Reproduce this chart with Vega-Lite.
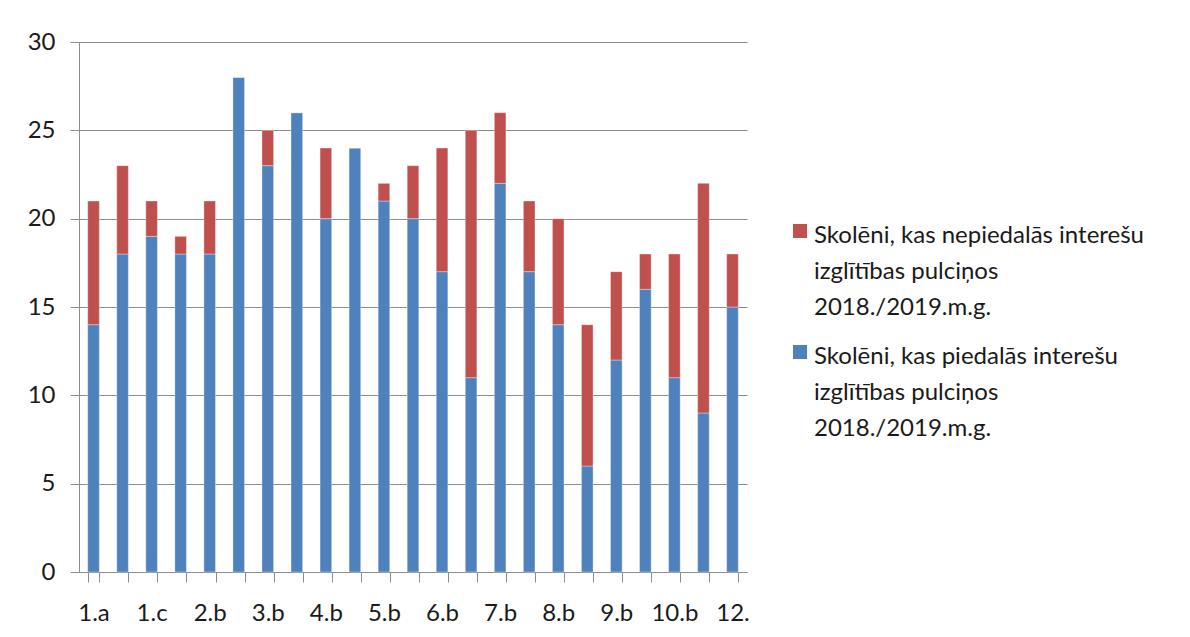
{
  "$schema": "https://vega.github.io/schema/vega-lite/v6.json",
  "width": 668,
  "height": 530,
  "autosize": {"type": "none"},
  "padding": {"left": 79, "top": 42, "right": 443, "bottom": 65},
  "background": "white",
  "data": {
    "values": [
      {"klase": "1.a", "grupa": "Skolēni, kas piedalās interešu izglītības pulciņos 2018./2019.m.g.", "skaits": 14},
      {"klase": "1.a", "grupa": "Skolēni, kas nepiedalās interešu izglītības pulciņos 2018./2019.m.g.", "skaits": 7},
      {"klase": "1.b", "grupa": "Skolēni, kas piedalās interešu izglītības pulciņos 2018./2019.m.g.", "skaits": 18},
      {"klase": "1.b", "grupa": "Skolēni, kas nepiedalās interešu izglītības pulciņos 2018./2019.m.g.", "skaits": 5},
      {"klase": "1.c", "grupa": "Skolēni, kas piedalās interešu izglītības pulciņos 2018./2019.m.g.", "skaits": 19},
      {"klase": "1.c", "grupa": "Skolēni, kas nepiedalās interešu izglītības pulciņos 2018./2019.m.g.", "skaits": 2},
      {"klase": "2.a", "grupa": "Skolēni, kas piedalās interešu izglītības pulciņos 2018./2019.m.g.", "skaits": 18},
      {"klase": "2.a", "grupa": "Skolēni, kas nepiedalās interešu izglītības pulciņos 2018./2019.m.g.", "skaits": 1},
      {"klase": "2.b", "grupa": "Skolēni, kas piedalās interešu izglītības pulciņos 2018./2019.m.g.", "skaits": 18},
      {"klase": "2.b", "grupa": "Skolēni, kas nepiedalās interešu izglītības pulciņos 2018./2019.m.g.", "skaits": 3},
      {"klase": "3.a", "grupa": "Skolēni, kas piedalās interešu izglītības pulciņos 2018./2019.m.g.", "skaits": 28},
      {"klase": "3.a", "grupa": "Skolēni, kas nepiedalās interešu izglītības pulciņos 2018./2019.m.g.", "skaits": 0},
      {"klase": "3.b", "grupa": "Skolēni, kas piedalās interešu izglītības pulciņos 2018./2019.m.g.", "skaits": 23},
      {"klase": "3.b", "grupa": "Skolēni, kas nepiedalās interešu izglītības pulciņos 2018./2019.m.g.", "skaits": 2},
      {"klase": "4.a", "grupa": "Skolēni, kas piedalās interešu izglītības pulciņos 2018./2019.m.g.", "skaits": 26},
      {"klase": "4.a", "grupa": "Skolēni, kas nepiedalās interešu izglītības pulciņos 2018./2019.m.g.", "skaits": 0},
      {"klase": "4.b", "grupa": "Skolēni, kas piedalās interešu izglītības pulciņos 2018./2019.m.g.", "skaits": 20},
      {"klase": "4.b", "grupa": "Skolēni, kas nepiedalās interešu izglītības pulciņos 2018./2019.m.g.", "skaits": 4},
      {"klase": "5.a", "grupa": "Skolēni, kas piedalās interešu izglītības pulciņos 2018./2019.m.g.", "skaits": 24},
      {"klase": "5.a", "grupa": "Skolēni, kas nepiedalās interešu izglītības pulciņos 2018./2019.m.g.", "skaits": 0},
      {"klase": "5.b", "grupa": "Skolēni, kas piedalās interešu izglītības pulciņos 2018./2019.m.g.", "skaits": 21},
      {"klase": "5.b", "grupa": "Skolēni, kas nepiedalās interešu izglītības pulciņos 2018./2019.m.g.", "skaits": 1},
      {"klase": "6.a", "grupa": "Skolēni, kas piedalās interešu izglītības pulciņos 2018./2019.m.g.", "skaits": 20},
      {"klase": "6.a", "grupa": "Skolēni, kas nepiedalās interešu izglītības pulciņos 2018./2019.m.g.", "skaits": 3},
      {"klase": "6.b", "grupa": "Skolēni, kas piedalās interešu izglītības pulciņos 2018./2019.m.g.", "skaits": 17},
      {"klase": "6.b", "grupa": "Skolēni, kas nepiedalās interešu izglītības pulciņos 2018./2019.m.g.", "skaits": 7},
      {"klase": "7.a", "grupa": "Skolēni, kas piedalās interešu izglītības pulciņos 2018./2019.m.g.", "skaits": 11},
      {"klase": "7.a", "grupa": "Skolēni, kas nepiedalās interešu izglītības pulciņos 2018./2019.m.g.", "skaits": 14},
      {"klase": "7.b", "grupa": "Skolēni, kas piedalās interešu izglītības pulciņos 2018./2019.m.g.", "skaits": 22},
      {"klase": "7.b", "grupa": "Skolēni, kas nepiedalās interešu izglītības pulciņos 2018./2019.m.g.", "skaits": 4},
      {"klase": "8.a", "grupa": "Skolēni, kas piedalās interešu izglītības pulciņos 2018./2019.m.g.", "skaits": 17},
      {"klase": "8.a", "grupa": "Skolēni, kas nepiedalās interešu izglītības pulciņos 2018./2019.m.g.", "skaits": 4},
      {"klase": "8.b", "grupa": "Skolēni, kas piedalās interešu izglītības pulciņos 2018./2019.m.g.", "skaits": 14},
      {"klase": "8.b", "grupa": "Skolēni, kas nepiedalās interešu izglītības pulciņos 2018./2019.m.g.", "skaits": 6},
      {"klase": "9.a", "grupa": "Skolēni, kas piedalās interešu izglītības pulciņos 2018./2019.m.g.", "skaits": 6},
      {"klase": "9.a", "grupa": "Skolēni, kas nepiedalās interešu izglītības pulciņos 2018./2019.m.g.", "skaits": 8},
      {"klase": "9.b", "grupa": "Skolēni, kas piedalās interešu izglītības pulciņos 2018./2019.m.g.", "skaits": 12},
      {"klase": "9.b", "grupa": "Skolēni, kas nepiedalās interešu izglītības pulciņos 2018./2019.m.g.", "skaits": 5},
      {"klase": "10.a", "grupa": "Skolēni, kas piedalās interešu izglītības pulciņos 2018./2019.m.g.", "skaits": 16},
      {"klase": "10.a", "grupa": "Skolēni, kas nepiedalās interešu izglītības pulciņos 2018./2019.m.g.", "skaits": 2},
      {"klase": "10.b", "grupa": "Skolēni, kas piedalās interešu izglītības pulciņos 2018./2019.m.g.", "skaits": 11},
      {"klase": "10.b", "grupa": "Skolēni, kas nepiedalās interešu izglītības pulciņos 2018./2019.m.g.", "skaits": 7},
      {"klase": "11.a", "grupa": "Skolēni, kas piedalās interešu izglītības pulciņos 2018./2019.m.g.", "skaits": 9},
      {"klase": "11.a", "grupa": "Skolēni, kas nepiedalās interešu izglītības pulciņos 2018./2019.m.g.", "skaits": 13},
      {"klase": "12.", "grupa": "Skolēni, kas piedalās interešu izglītības pulciņos 2018./2019.m.g.", "skaits": 15},
      {"klase": "12.", "grupa": "Skolēni, kas nepiedalās interešu izglītības pulciņos 2018./2019.m.g.", "skaits": 3}
    ]
  },
  "mark": {"type": "bar", "stroke": "white", "strokeOpacity": 0.35, "strokeWidth": 1},
  "encoding": {
    "x": {
      "field": "klase",
      "type": "nominal",
      "sort": null,
      "scale": {"paddingInner": 0.6, "paddingOuter": 0.3},
      "axis": {
        "title": null,
        "labelAngle": 0,
        "tickBand": "extent",
        "labelExpr": "indexof(['1.a','1.c','2.b','3.b','4.b','5.b','6.b','7.b','8.b','9.b','10.b','12.'], datum.value) >= 0 ? datum.label : ''",
        "labelFontSize": 24,
        "labelPadding": 19,
        "tickSize": 10,
        "labelOverlap": false,
        "domainColor": "#8c8c8c",
        "tickColor": "#8c8c8c"
      }
    },
    "y": {
      "field": "skaits",
      "type": "quantitative",
      "stack": "zero",
      "scale": {"domain": [0, 30], "nice": false},
      "axis": {
        "title": null,
        "values": [0, 5, 10, 15, 20, 25, 30],
        "labelFontSize": 24,
        "tickSize": 9,
        "labelPadding": 15,
        "grid": true,
        "gridColor": "#8c8c8c",
        "domainColor": "#8c8c8c",
        "tickColor": "#8c8c8c"
      }
    },
    "color": {
      "field": "grupa",
      "type": "nominal",
      "scale": {
        "domain": [
          "Skolēni, kas nepiedalās interešu izglītības pulciņos 2018./2019.m.g.",
          "Skolēni, kas piedalās interešu izglītības pulciņos 2018./2019.m.g."
        ],
        "range": ["#C0504D", "#4F81BD"]
      },
      "legend": {
        "title": null,
        "orient": "none",
        "legendX": 709,
        "legendY": 170,
        "padding": 0,
        "symbolType": "M-1,0H1V2H-1Z",
        "symbolSize": 196,
        "symbolStrokeWidth": 0,
        "labelFontSize": 24,
        "labelOffset": 2,
        "labelLimit": 0,
        "labelBaseline": "top",
        "rowPadding": 13,
        "labelExpr": "split(replace(replace(datum.label, ' izglītības', '|izglītības'), ' 2018', '|2018'), '|')"
      }
    },
    "order": {"field": "grupa", "sort": "descending"}
  },
  "config": {
    "font": "Lato",
    "view": {"stroke": null},
    "axis": {"labelColor": "#1a1a1a", "gridWidth": 1, "domainWidth": 1, "tickWidth": 1},
    "legend": {"labelColor": "#1a1a1a"},
    "style": {"guide-label": {"lineHeight": 36}}
  }
}
